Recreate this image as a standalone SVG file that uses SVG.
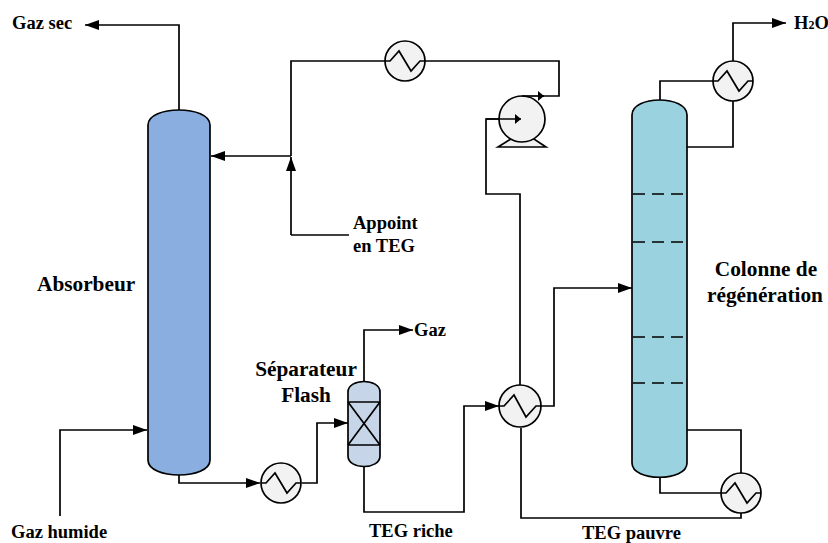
<svg xmlns="http://www.w3.org/2000/svg" width="828" height="543" viewBox="0 0 828 543">
<style>
.l{fill:none;stroke:#000;stroke-width:1.7}
.v{fill:#f2f2f2;stroke:#000;stroke-width:1.7}
.z{fill:none;stroke:#000;stroke-width:1.7;stroke-linejoin:miter}
.d{fill:none;stroke:#000;stroke-width:1.7;stroke-dasharray:12 7}
text{font-family:"Liberation Serif","Times New Roman",serif;font-weight:bold;fill:#000}
.s{font-size:18.5px}
.b{font-size:21.3px}
</style>
<defs>
<marker id="a" markerUnits="userSpaceOnUse" markerWidth="14" markerHeight="10" refX="14" refY="5" orient="auto"><path d="M0 0L14 5L0 10z" fill="#000"/></marker>
<marker id="p" markerUnits="userSpaceOnUse" markerWidth="6" markerHeight="10" refX="6" refY="5" orient="auto"><path d="M0 0L6 5L0 10z" fill="#000"/></marker>
<g id="hx"><circle r="20" class="v"/><path class="z" d="M-20 0H-15L-6 -10L6 10L15 0H20"/></g>
</defs>
<g id="connectors">
<path class="l" marker-end="url(#a)" d="M179 110V25H85"/>
<path class="l" marker-end="url(#a)" d="M60 516V430H147"/>
<path class="l" marker-end="url(#a)" d="M179 475V483H260"/>
<path class="l" marker-end="url(#a)" d="M302 483H317V423H348"/>
<path class="l" marker-end="url(#a)" d="M364 382V330H413"/>
<path class="l" marker-end="url(#a)" d="M364 466V512H464V406H499"/>
<path class="l" marker-end="url(#a)" d="M541 406H554V288H632"/>
<path class="l" d="M520 385V194H486V119H500"/>
<path class="l" d="M521 428V518H741V512"/>
<path class="l" d="M540 96H559V61H425"/>
<path class="l" d="M385 61H291V156"/>
<path class="l" marker-end="url(#a)" d="M291 156H211"/>
<path class="l" marker-end="url(#a)" d="M291 235V157"/>
<path class="l" d="M291 235H349"/>
<path class="l" d="M660 100V81H714"/>
<path class="l" marker-end="url(#a)" d="M733 62V23H786"/>
<path class="l" d="M687 147H733V100"/>
<path class="l" d="M687 430H741V474"/>
<path class="l" d="M660 477V493H722"/>
</g>
<g id="absorbeur"><path d="M148 125C148 105 210 105 210 125V460C210 480 148 480 148 460Z" fill="#8aaee0" stroke="#000" stroke-width="1.7"/></g>
<g id="colonne"><path d="M632 115C632 95 687 95 687 115V463C687 482 632 482 632 463Z" fill="#9ad2e0" stroke="#000" stroke-width="1.7"/>
<path class="d" d="M633 194H685M633 242H685M633 337H685M633 383H685"/></g>
<g id="separateur"><path d="M348 392C348 378 380 378 380 392V456C380 470 348 470 348 456Z" fill="#c6d6e8" stroke="#000" stroke-width="1.7"/>
<path class="l" d="M348 402H380M348 445H380M348 402L380 445M380 402L348 445"/></g>
<g id="pompe"><path class="v" d="M498 147L511 139H534L546 147Z"/><circle cx="522" cy="119" r="23" class="v"/><path class="l" marker-end="url(#p)" d="M486 119H521"/><path class="l" marker-end="url(#p)" d="M522 96H544"/></g>
<use id="hx1" href="#hx" x="405" y="61"/>
<use id="hx2" href="#hx" x="281" y="483"/>
<g id="hx3"><circle cx="520" cy="406" r="21" class="v"/><path class="z" d="M499 406H504L514 395L526 417L536 406H541"/></g>
<use id="hx4" href="#hx" x="733" y="81"/>
<use id="hx5" href="#hx" x="741" y="493"/>
<g id="labels">
<text class="s" x="12" y="29">Gaz sec</text>
<text class="s" x="794" y="29">H<tspan font-size="12">2</tspan>O</text>
<text class="s" x="353" y="229">Appoint</text>
<text class="s" x="353" y="252">en TEG</text>
<text class="b" x="37" y="291">Absorbeur</text>
<text class="b" x="766" y="276" text-anchor="middle">Colonne de</text>
<text class="b" x="765" y="302" text-anchor="middle">régénération</text>
<text class="b" x="306" y="376" text-anchor="middle">Séparateur</text>
<text class="b" x="306" y="402" text-anchor="middle">Flash</text>
<text class="s" x="414" y="336">Gaz</text>
<text class="s" x="11" y="538">Gaz humide</text>
<text class="s" x="369" y="537">TEG riche</text>
<text class="s" x="582" y="538.5">TEG pauvre</text>
</g>
</svg>
